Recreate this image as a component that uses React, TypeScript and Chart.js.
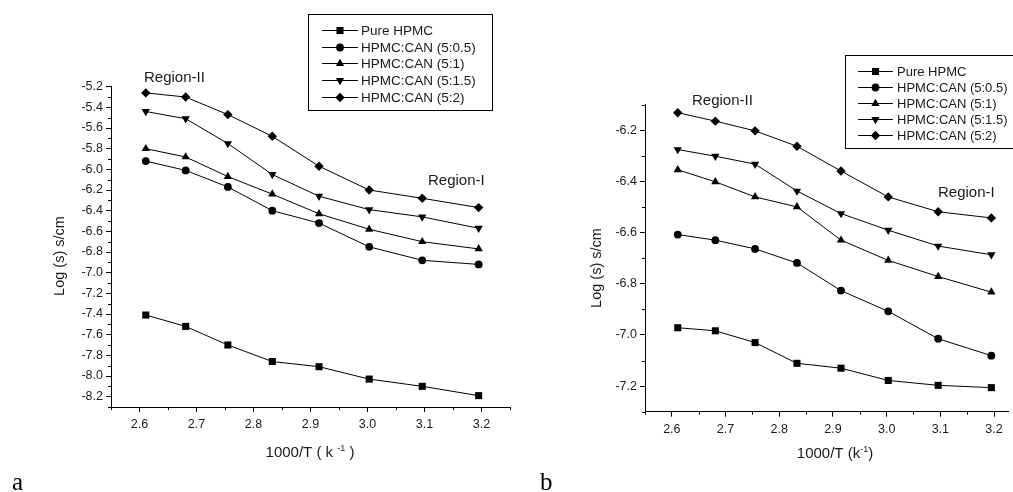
import React, { useEffect, useRef } from "react";
import { Chart, registerables } from "chart.js";
import { drawPoint } from "chart.js/helpers";

Chart.register(...registerables);

// ---------- data ----------
const invT = [2.611, 2.681, 2.755, 2.833, 2.915, 3.003, 3.096, 3.195];
const seriesNames = [
  "Pure HPMC",
  "HPMC:CAN (5:0.5)",
  "HPMC:CAN (5:1)",
  "HPMC:CAN (5:1.5)",
  "HPMC:CAN (5:2)",
];

// panel a
const aPure = [-7.41, -7.52, -7.7, -7.86, -7.91, -8.03, -8.1, -8.19];
const a05 = [-5.92, -6.01, -6.17, -6.4, -6.52, -6.75, -6.88, -6.92];
const a1 = [-5.8, -5.88, -6.07, -6.24, -6.43, -6.58, -6.7, -6.77];
const a15 = [-5.44, -5.51, -5.75, -6.05, -6.26, -6.39, -6.46, -6.57];
const a2 = [-5.26, -5.3, -5.47, -5.68, -5.97, -6.2, -6.28, -6.37];

// panel b
const bPure = [-6.972, -6.984, -7.03, -7.111, -7.13, -7.178, -7.197, -7.206];
const b05 = [-6.608, -6.63, -6.664, -6.719, -6.827, -6.908, -7.015, -7.081];
const b1 = [-6.355, -6.402, -6.461, -6.5, -6.63, -6.709, -6.772, -6.833];
const b15 = [-6.276, -6.302, -6.333, -6.438, -6.526, -6.591, -6.653, -6.687];
const b2 = [-6.132, -6.165, -6.203, -6.263, -6.36, -6.461, -6.519, -6.543];

// ticks
const xTicks = [2.6, 2.7, 2.8, 2.9, 3.0, 3.1, 3.2];
const xMinorA = [2.55, 2.65, 2.75, 2.85, 2.95, 3.05, 3.15, 3.25];
const xMinorB = [2.55, 2.65, 2.75, 2.85, 2.95, 3.05, 3.15];
const aYTicks = [-8.2, -8.0, -7.8, -7.6, -7.4, -7.2, -7.0, -6.8, -6.6, -6.4, -6.2, -6.0, -5.8, -5.6, -5.4, -5.2];
const aYMinor = [-8.3, -8.1, -7.9, -7.7, -7.5, -7.3, -7.1, -6.9, -6.7, -6.5, -6.3, -6.1, -5.9, -5.7, -5.5, -5.3];
const bYTicks = [-7.2, -7.0, -6.8, -6.6, -6.4, -6.2];
const bYMinor = [-7.3, -7.1, -6.9, -6.7, -6.5, -6.3, -6.1];

// ---------- styles ----------
const W = 1013;
const H = 492;
const SANS = "'Liberation Sans', Arial, sans-serif";
const SERIF = "'Liberation Serif', 'Times New Roman', serif";
const INK = "#000";
const TEXT = "#1a1a1a";
const Y_W = 45;
const X_H = 30;

const markers = [
  { style: "rect", radius: 5, rotation: 0 },
  { style: "circle", radius: 3.9, rotation: 0 },
  { style: "triangle", radius: 4.8, rotation: 0 },
  { style: "triangle", radius: 4.8, rotation: 180 },
  { style: "rectRot", radius: 4.7, rotation: 0 },
];

type Panel = {
  canvasLeft: number;
  canvasWidth: number;
  area: { left: number; right: number; top: number; bottom: number };
  xRange: [number, number];
  yRange: [number, number];
  yTicks: number[];
  yMinor: number[];
  xMinor: number[];
  series: number[][];
  legend: { left: number; top: number; right: number; bottom: number; rows: number[]; lineX1: number; lineX2: number; textX: number; font: number };
  regions: { text: string; x: number; y: number }[];
  yTitle: { x: number; y: number };
  xTitle: { cx: number; y: number; main: string; sup: string; tail: string };
  letter: { text: string; x: number; y: number };
};

const panels: Panel[] = [
  {
    canvasLeft: 0,
    canvasWidth: 530,
    area: { left: 111, right: 510, top: 86.7, bottom: 407 },
    xRange: [2.55, 3.25],
    yRange: [-8.3, -5.2],
    yTicks: aYTicks,
    yMinor: aYMinor,
    xMinor: xMinorA,
    series: [aPure, a05, a1, a15, a2],
    legend: { left: 308, top: 14, right: 492, bottom: 110, rows: [30, 47, 63, 80, 97], lineX1: 322, lineX2: 358, textX: 361, font: 13.5 },
    regions: [
      { text: "Region-II", x: 144, y: 82 },
      { text: "Region-I", x: 428, y: 185 },
    ],
    yTitle: { x: 60, y: 256 },
    xTitle: { cx: 310, y: 457, main: "1000/T ( k ", sup: "-1", tail: " )" },
    letter: { text: "a", x: 12, y: 490 },
  },
  {
    canvasLeft: 530,
    canvasWidth: 483,
    area: { left: 645, right: 1013, top: 104.5, bottom: 411.7 },
    xRange: [2.55, 3.226],
    yRange: [-7.3, -6.1],
    yTicks: bYTicks,
    yMinor: bYMinor,
    xMinor: xMinorB,
    series: [bPure, b05, b1, b15, b2],
    legend: { left: 845, top: 55, right: 1012.5, bottom: 148, rows: [71, 87, 103, 119, 135], lineX1: 858, lineX2: 893, textX: 897, font: 13 },
    regions: [
      { text: "Region-II", x: 692, y: 105 },
      { text: "Region-I", x: 938, y: 197 },
    ],
    yTitle: { x: 597, y: 268 },
    xTitle: { cx: 835, y: 458, main: "1000/T (k", sup: "-1", tail: ")" },
    letter: { text: "b", x: 540, y: 490 },
  },
];

function buildConfig(p: Panel): any {
  const off = p.canvasLeft;
  const minorTicks = {
    id: "minorTicks",
    afterDraw(chart: any) {
      const ctx = chart.ctx;
      const xs = chart.scales.x;
      const ys = chart.scales.y;
      ctx.save();
      ctx.strokeStyle = INK;
      ctx.lineWidth = 1;
      ctx.beginPath();
      const b = chart.chartArea.bottom;
      const l = chart.chartArea.left;
      p.xMinor.forEach((v) => {
        const px = Math.round(xs.getPixelForValue(v)) + 0.5;
        ctx.moveTo(px, b);
        ctx.lineTo(px, b + 3);
      });
      p.yMinor.forEach((v) => {
        const py = Math.round(ys.getPixelForValue(v)) + 0.5;
        ctx.moveTo(l, py);
        ctx.lineTo(l - 3, py);
      });
      ctx.stroke();
      ctx.restore();
    },
  };

  const overlay = {
    id: "overlay",
    afterDraw(chart: any) {
      const ctx = chart.ctx;
      ctx.save();
      // legend
      const lg = p.legend;
      ctx.fillStyle = "#fff";
      ctx.fillRect(lg.left - off, lg.top, lg.right - lg.left, lg.bottom - lg.top);
      ctx.strokeStyle = INK;
      ctx.lineWidth = 1;
      ctx.strokeRect(Math.round(lg.left - off) + 0.5, Math.round(lg.top) + 0.5, Math.round(lg.right - lg.left), Math.round(lg.bottom - lg.top));
      seriesNames.forEach((name, i) => {
        const y = lg.rows[i];
        ctx.beginPath();
        ctx.strokeStyle = INK;
        ctx.lineWidth = 1;
        ctx.moveTo(lg.lineX1 - off, y + 0.5);
        ctx.lineTo(lg.lineX2 - off, y + 0.5);
        ctx.stroke();
        ctx.fillStyle = INK;
        drawPoint(ctx, { pointStyle: markers[i].style as any, radius: markers[i].radius, rotation: markers[i].rotation, borderWidth: 0 } as any, (lg.lineX1 + lg.lineX2) / 2 - off, y + 0.5);
        ctx.fillStyle = TEXT;
        ctx.font = `${lg.font}px ${SANS}`;
        ctx.textAlign = "left";
        ctx.textBaseline = "alphabetic";
        ctx.fillText(name, lg.textX - off, y + lg.font * 0.36);
      });
      // region labels
      ctx.font = `15px ${SANS}`;
      ctx.fillStyle = TEXT;
      ctx.textAlign = "left";
      ctx.textBaseline = "alphabetic";
      p.regions.forEach((r) => ctx.fillText(r.text, r.x - off, r.y));
      // y title
      ctx.save();
      ctx.translate(p.yTitle.x - off, p.yTitle.y);
      ctx.rotate(-Math.PI / 2);
      ctx.font = `14.5px ${SANS}`;
      ctx.textAlign = "center";
      ctx.textBaseline = "middle";
      ctx.fillText("Log (s) s/cm", 0, 0);
      ctx.restore();
      // x title with superscript
      const xt = p.xTitle;
      ctx.font = `15px ${SANS}`;
      const w1 = ctx.measureText(xt.main).width;
      const w3 = ctx.measureText(xt.tail).width;
      ctx.font = `9px ${SANS}`;
      const w2 = ctx.measureText(xt.sup).width;
      let x = xt.cx - off - (w1 + w2 + w3) / 2;
      ctx.textAlign = "left";
      ctx.textBaseline = "alphabetic";
      ctx.font = `15px ${SANS}`;
      ctx.fillText(xt.main, x, xt.y);
      x += w1;
      ctx.font = `9px ${SANS}`;
      ctx.fillText(xt.sup, x, xt.y - 6);
      x += w2;
      ctx.font = `15px ${SANS}`;
      ctx.fillText(xt.tail, x, xt.y);
      // panel letter
      ctx.font = `25px ${SERIF}`;
      ctx.fillStyle = "#000";
      ctx.fillText(p.letter.text, p.letter.x - off, p.letter.y);
      ctx.restore();
    },
  };

  return {
    type: "line",
    data: {
      datasets: p.series.map((s, i) => ({
        label: seriesNames[i],
        data: invT.map((x, j) => ({ x, y: s[j] })),
        borderColor: INK,
        backgroundColor: INK,
        borderWidth: 1,
        pointStyle: markers[i].style,
        pointRadius: markers[i].radius,
        pointRotation: markers[i].rotation,
        pointBorderWidth: 0,
        pointBackgroundColor: INK,
        tension: 0,
        clip: false,
      })),
    },
    options: {
      animation: false,
      responsive: false,
      events: [],
      layout: {
        padding: {
          left: p.area.left - p.canvasLeft - Y_W,
          right: p.canvasLeft + p.canvasWidth - p.area.right,
          top: p.area.top,
          bottom: H - p.area.bottom - X_H,
        },
      },
      plugins: {
        legend: { display: false },
        tooltip: { enabled: false },
        title: { display: false },
      },
      scales: {
        x: {
          type: "linear",
          min: p.xRange[0],
          max: p.xRange[1],
          afterBuildTicks: (s: any) => {
            s.ticks = xTicks.map((v) => ({ value: v }));
          },
          afterFit: (s: any) => {
            s.height = X_H;
          },
          ticks: {
            callback: (v: any) => Number(v).toFixed(1),
            font: { family: SANS, size: 12.5 },
            color: TEXT,
            padding: 5,
            maxRotation: 0,
            autoSkip: false,
          },
          grid: { drawOnChartArea: false, drawTicks: true, tickLength: 5, tickColor: INK, tickWidth: 1 },
          border: { display: true, color: INK, width: 1 },
        },
        y: {
          type: "linear",
          min: p.yRange[0],
          max: p.yRange[1],
          afterBuildTicks: (s: any) => {
            s.ticks = p.yTicks.map((v) => ({ value: v }));
          },
          afterFit: (s: any) => {
            s.width = Y_W;
          },
          ticks: {
            callback: (v: any) => Number(v).toFixed(1),
            font: { family: SANS, size: 12.5 },
            color: TEXT,
            padding: 3,
            autoSkip: false,
          },
          grid: { drawOnChartArea: false, drawTicks: true, tickLength: 5, tickColor: INK, tickWidth: 1 },
          border: { display: true, color: INK, width: 1 },
        },
      },
    },
    plugins: [minorTicks, overlay],
  };
}

function PanelChart({ p }: { p: Panel }) {
  const ref = useRef<HTMLCanvasElement>(null);
  useEffect(() => {
    if (!ref.current) return;
    const chart = new Chart(ref.current, buildConfig(p));
    return () => chart.destroy();
  }, [p]);
  return (
    <canvas
      ref={ref}
      width={p.canvasWidth}
      height={H}
      style={{ position: "absolute", left: p.canvasLeft, top: 0, width: p.canvasWidth, height: H }}
    />
  );
}

export default function App() {
  return (
    <div style={{ position: "fixed", left: 0, top: 0, width: W, height: H, background: "#fff", overflow: "hidden" }}>
      {panels.map((p, i) => (
        <PanelChart key={i} p={p} />
      ))}
    </div>
  );
}
